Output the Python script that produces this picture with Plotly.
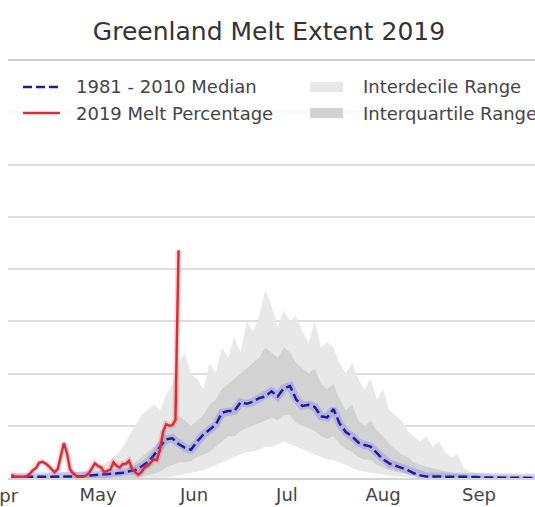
import pandas as pd
import plotly.graph_objects as go

# ---- data: Greenland surface melt extent (% of ice sheet) ----
# 1981-2010 climatology, every second day starting 18 April
clim_start = "2019-04-18"
median_1981_2010 = [
    0.2, 0.2, 0.2, 0.2, 0.2, 0.2, 0.2, 0.2, 0.3, 0.3,
    0.3, 0.3, 0.4, 0.5, 0.6, 0.7, 0.8, 0.9, 1.0, 1.3,
    1.5, 2.2, 3.0, 4.3, 6.0, 7.4, 7.6, 6.5, 5.8, 5.4,
    7.0, 8.3, 9.2, 10.2, 12.5, 12.8, 12.8, 14.5, 14.2, 14.6,
    15.3, 15.6, 16.6, 15.6, 17.2, 17.6, 15.0, 13.8, 14.0, 13.6,
    11.8, 11.6, 13.2, 10.4, 8.8, 8.0, 6.8, 6.3, 6.0, 4.8,
    3.6, 2.8, 2.4, 1.9, 1.5, 0.9, 0.5, 0.3, 0.3, 0.3,
    0.3, 0.2, 0.2, 0.2, 0.2, 0.2, 0.1, 0.1, 0.1, 0.1,
    0.1, 0.1, 0.1, 0.0, 0.0, 0.0,
]
p10 = [0.0] * 26 + [
    0.3, 0.5, 0.8, 1.0, 1.2, 1.5, 2.0, 2.5, 3.0, 3.5,
    4.0, 4.5, 5.0, 5.0, 5.5, 6.0, 6.0, 6.5, 7.0, 6.5,
    6.0, 5.5, 5.0, 4.5, 4.0, 3.5, 3.5, 3.0, 2.5, 2.0,
    1.5, 1.2, 1.0, 0.8, 0.6, 0.4, 0.3, 0.2, 0.1, 0.1,
] + [0.0] * 20
p25 = [0.0] * 21 + [
    0.3, 0.5, 0.8, 1.2, 2.0, 2.5, 3.0, 3.0, 3.2, 4.0,
    4.5, 5.0, 6.0, 7.0, 8.0, 8.0, 9.0, 9.5, 10.0, 10.5,
    11.0, 11.5, 11.0, 12.0, 12.0, 10.5, 10.0, 9.5, 9.0, 8.0,
    7.5, 8.0, 6.5, 5.5, 5.0, 4.0, 3.5, 3.5, 2.5, 2.0,
    1.5, 1.2, 0.9, 0.7, 0.5, 0.3, 0.2, 0.1, 0.1, 0.1,
] + [0.0] * 15
p75 = [0.1] * 11 + [
    0.3, 0.4, 0.5, 0.6, 0.8, 1.0, 1.2,
    1.5, 2.0, 3.0, 4.0, 5.0, 6.0, 7.5, 9.0, 10.0, 12.0,
    11.0, 10.0, 11.0, 12.0, 14.0, 15.0, 17.0, 18.0, 19.0, 20.0,
    21.0, 22.0, 23.0, 25.0, 24.0, 23.0, 25.0, 24.0, 22.0, 21.0,
    20.0, 21.0, 18.0, 17.0, 18.0, 15.0, 13.0, 14.0, 11.0, 10.0,
    11.0, 9.0, 8.0, 6.5, 5.5, 4.5, 4.0, 3.0, 2.5, 2.2,
    1.8, 1.6, 1.2, 1.0, 0.8, 0.6, 0.5, 0.4, 0.3, 0.3,
    0.2, 0.2, 0.2, 0.2, 0.1, 0.1, 0.1, 0.1,
]
p90 = [
    0.5, 0.5, 0.6, 0.6, 0.7, 0.7, 0.8, 0.8, 0.9, 1.0, 1.0,
    1.2, 1.5, 1.8, 2.2, 2.8, 3.5, 4.5,
    6.0, 8.0, 10.0, 12.0, 13.0, 14.0, 13.0, 16.0, 18.0, 22.0,
    24.0, 20.0, 19.0, 17.0, 22.0, 20.0, 25.0, 23.0, 27.0, 24.0,
    30.0, 28.0, 31.0, 36.0, 33.0, 29.0, 32.0, 30.0, 31.0, 28.0,
    26.0, 30.0, 25.0, 26.0, 25.0, 22.0, 20.0, 22.0, 19.0, 17.0,
    19.0, 15.0, 17.0, 13.0, 12.0, 11.0, 9.0, 8.0, 7.0, 8.0,
    6.0, 7.0, 5.0, 4.0, 4.5, 2.0, 1.2, 1.0, 0.8, 0.7,
    0.6, 0.6, 0.5, 0.5, 0.5, 0.4, 0.4, 0.4,
]

# 2019 daily melt percentage, 18 April to 11 June
melt_start = "2019-04-18"
melt_2019 = [
    0.6, 0.3, 0.2, 0.2, 0.2, 0.3, 0.8, 1.5, 1.9, 2.9,
    3.1, 2.8, 2.3, 1.6, 1.1, 1.7, 4.0, 6.7, 4.7, 1.6,
    0.9, 0.4, 0.1, 0.2, 0.4, 0.9, 2.0, 2.8, 2.3, 2.0,
    1.1, 1.3, 1.6, 3.0, 2.3, 2.0, 2.7, 2.7, 3.3, 1.7,
    1.1, 0.6, 1.1, 2.0, 2.3, 3.0, 3.6, 3.4, 5.4, 8.8,
    10.3, 10.0, 10.1, 11.1, 43.6,
]

month_ticks = ["2019-05-16", "2019-06-16", "2019-07-16", "2019-08-16", "2019-09-16"]
month_labels = ["May", "Jun", "Jul", "Aug", "Sep"]

legend_labels = ["1981 - 2010 Median", "2019 Melt Percentage",
                 "Interdecile Range", "Interquartile Range"]

clim_dates = pd.date_range(clim_start, periods=len(median_1981_2010), freq="2D")
melt_dates = pd.date_range(melt_start, periods=len(melt_2019), freq="D")

FONT = "DejaVu Sans"
TXT = "#444444"
C_DECILE = "#e8e8e8"
C_QUART = "#d2d2d2"
C_MEDIAN = "#1c1c9c"
C_RED = "#d3303d"

fig = go.Figure()

# interdecile band
fig.add_trace(go.Scatter(x=clim_dates, y=p10, mode="lines", line=dict(width=0),
                         showlegend=False, hoverinfo="skip"))
fig.add_trace(go.Scatter(x=clim_dates, y=p90, mode="lines", line=dict(width=0),
                         fill="tonexty", fillcolor=C_DECILE, showlegend=False,
                         name=legend_labels[2]))
# interquartile band
fig.add_trace(go.Scatter(x=clim_dates, y=p25, mode="lines", line=dict(width=0),
                         showlegend=False, hoverinfo="skip"))
fig.add_trace(go.Scatter(x=clim_dates, y=p75, mode="lines", line=dict(width=0),
                         fill="tonexty", fillcolor=C_QUART, showlegend=False,
                         name=legend_labels[3]))
# median with a soft glow
fig.add_trace(go.Scatter(x=clim_dates, y=median_1981_2010, mode="lines",
                         line=dict(color="rgba(100,100,255,0.28)", width=8),
                         showlegend=False, hoverinfo="skip"))
fig.add_trace(go.Scatter(x=clim_dates, y=median_1981_2010, mode="lines",
                         line=dict(color=C_MEDIAN, width=2.5, dash="9px,4px"),
                         showlegend=False, name=legend_labels[0]))
# 2019 melt
fig.add_trace(go.Scatter(x=melt_dates, y=melt_2019, mode="lines",
                         line=dict(color="rgba(235,90,100,0.25)", width=6),
                         showlegend=False, hoverinfo="skip"))
fig.add_trace(go.Scatter(x=melt_dates, y=melt_2019, mode="lines",
                         line=dict(color=C_RED, width=2.5),
                         showlegend=False, name=legend_labels[1]))

# ---- layout geometry (pixels) ----
W, H = 535, 507
ML, MR, MT, MB = 8, 0, 60, 29
PW, PH = W - ML - MR, H - MT - MB


def px_x(p):
    return (p - ML) / PW


def px_y(p):
    return (H - MB - p) / PH


shapes = [
    # top boundary line
    dict(type="line", xref="paper", yref="paper", x0=0, x1=1, y0=1, y1=1,
         line=dict(color="#bdbdbd", width=1.5), layer="above"),
    # translucent legend background
    dict(type="rect", xref="paper", yref="paper", x0=px_x(8), x1=1.0,
         y0=px_y(133), y1=px_y(66), fillcolor="rgba(255,255,255,0.88)",
         line=dict(width=0), layer="above"),
    # legend keys
    dict(type="line", xref="paper", yref="paper", x0=px_x(23), x1=px_x(60),
         y0=px_y(87), y1=px_y(87), line=dict(color=C_MEDIAN, width=2.5, dash="9px,4px"),
         layer="above"),
    dict(type="line", xref="paper", yref="paper", x0=px_x(23), x1=px_x(60),
         y0=px_y(113), y1=px_y(113), line=dict(color=C_RED, width=2.5), layer="above"),
    dict(type="rect", xref="paper", yref="paper", x0=px_x(310), x1=px_x(343),
         y0=px_y(92), y1=px_y(82), fillcolor=C_DECILE, line=dict(width=0), layer="above"),
    dict(type="rect", xref="paper", yref="paper", x0=px_x(310), x1=px_x(343),
         y0=px_y(118), y1=px_y(108), fillcolor=C_QUART, line=dict(width=0), layer="above"),
]

annotations = []
for label, (lx, ly) in zip(legend_labels, [(74, 87), (74, 113), (361, 87), (361, 113)]):
    annotations.append(dict(text=label, xref="paper", yref="paper", x=px_x(lx), y=px_y(ly),
                            xanchor="left", yanchor="middle", showarrow=False,
                            font=dict(family=FONT, size=18, color=TXT)))
# April label sits just left of the plotted window
annotations.append(dict(text="Apr", xref="paper", yref="paper", x=px_x(2.5), y=px_y(495),
                        xanchor="center", yanchor="middle", showarrow=False,
                        font=dict(family=FONT, size=18, color=TXT)))

fig.update_layout(
    width=W, height=H,
    margin=dict(l=ML, r=MR, t=MT, b=MB, pad=0),
    paper_bgcolor="white", plot_bgcolor="white",
    title=dict(text="Greenland Melt Extent 2019", x=269 / W, xref="container",
               xanchor="center", y=1 - 31 / H, yref="container", yanchor="middle",
               font=dict(family=FONT, size=25, color="#333333")),
    showlegend=False,
    shapes=shapes,
    annotations=annotations,
    xaxis=dict(type="date", range=["2019-04-16 22:48", "2019-10-04 01:30"],
               tickvals=month_ticks, ticktext=month_labels, ticks="",
               showgrid=False, zeroline=False, showline=True, linecolor="#d4d4d4",
               linewidth=1.5, tickfont=dict(family=FONT, size=18, color=TXT)),
    yaxis=dict(range=[0, 80], dtick=10, showgrid=True, gridcolor="#dedede",
               gridwidth=1.5, zeroline=False, showticklabels=False, ticks=""),
)

fig.write_html("out.html")
